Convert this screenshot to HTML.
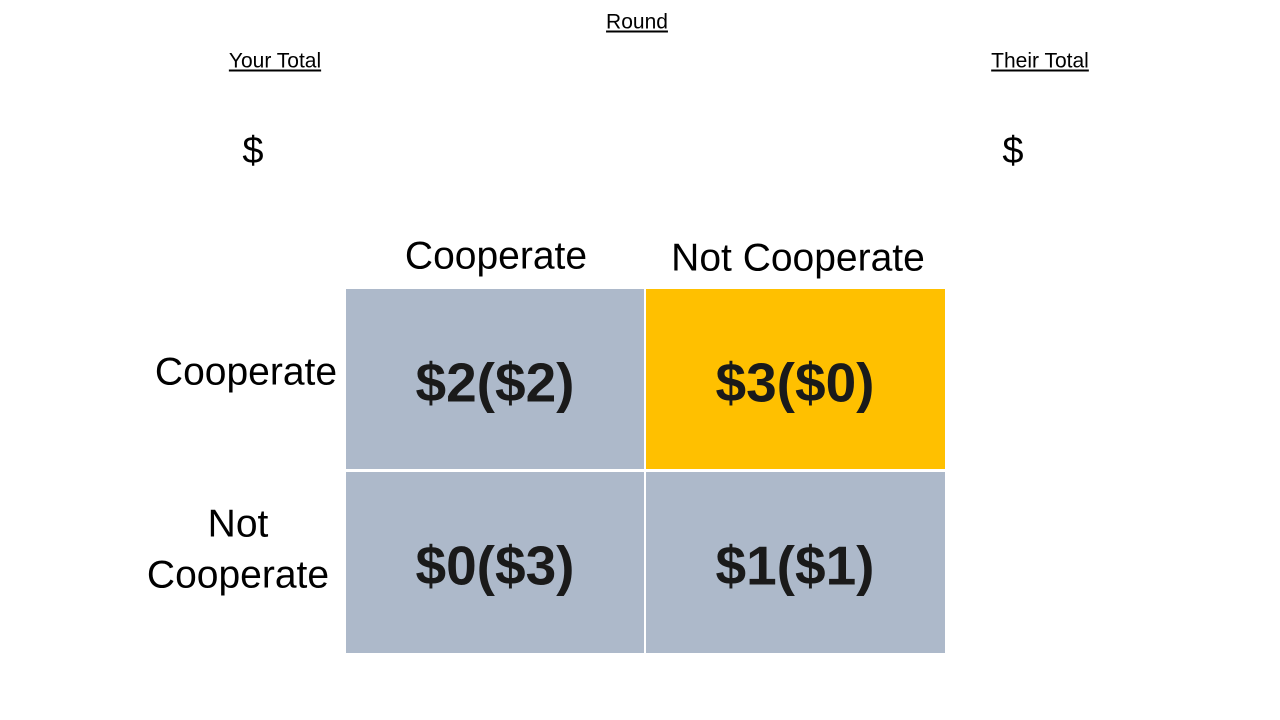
<!DOCTYPE html>
<html><head><style>
body{margin:0;width:1280px;height:720px;background:#fff;position:relative;overflow:hidden;font-family:"Liberation Sans",sans-serif;color:#000}
.t{position:absolute;white-space:nowrap;transform:translate(-50%,-50%);line-height:1}
.u{text-decoration:underline;font-size:21px}
.c{position:absolute;background:#ADB9CA}
.p{position:absolute;font-weight:bold;font-size:55px;color:#1a1a1a;transform:translate(-50%,-50%);white-space:nowrap;line-height:1}
</style></head><body>
<div class="t u" style="left:637px;top:22px">Round</div>
<div class="t u" style="left:275px;top:61px">Your Total</div>
<div class="t u" style="left:1040px;top:61px">Their Total</div>
<div class="t" style="left:253px;top:151px;font-size:38px">$</div>
<div class="t" style="left:1013px;top:151px;font-size:38px">$</div>
<div class="t" style="left:496px;top:256px;font-size:39px">Cooperate</div>
<div class="t" style="left:798px;top:258px;font-size:39px">Not Cooperate</div>
<div class="t" style="left:246px;top:372px;font-size:39px">Cooperate</div>
<div class="t" style="left:238px;top:524px;font-size:39px">Not</div>
<div class="t" style="left:238px;top:575px;font-size:39px">Cooperate</div>
<div class="c" style="left:346px;top:289px;width:298px;height:180px"></div>
<div class="c" style="left:646px;top:289px;width:299px;height:180px;background:#FFC000"></div>
<div class="c" style="left:346px;top:472px;width:298px;height:181px"></div>
<div class="c" style="left:646px;top:472px;width:299px;height:181px"></div>
<div class="p" style="left:495px;top:383px">$2($2)</div>
<div class="p" style="left:795px;top:383px">$3($0)</div>
<div class="p" style="left:495px;top:566px">$0($3)</div>
<div class="p" style="left:795px;top:566px">$1($1)</div>
</body></html>
